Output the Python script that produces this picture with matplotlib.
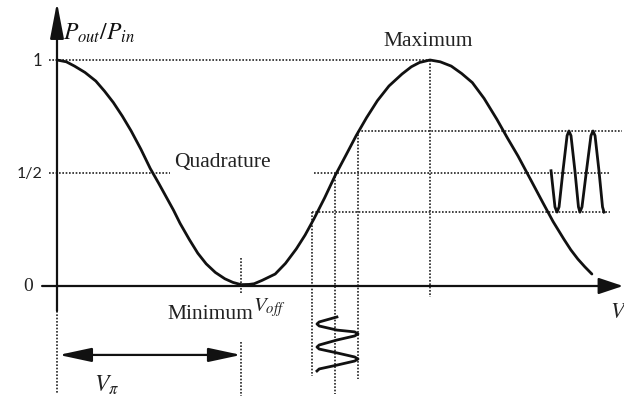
import matplotlib
matplotlib.use("Agg")
import matplotlib.pyplot as plt

plt.rcParams['mathtext.fontset'] = 'stix'

# ---- data (x in units of V_pi, y = Pout/Pin) ----
curve_x = [0.0, 0.05, 0.094, 0.15, 0.208, 0.255, 0.302, 0.35, 0.397, 0.45,
           0.5, 0.545, 0.585, 0.625, 0.66, 0.71, 0.755, 0.8, 0.849, 0.9,
           0.943, 0.987, 1.03, 1.057, 1.1, 1.17, 1.225, 1.283, 1.33, 1.377,
           1.435, 1.491, 1.55, 1.604, 1.66, 1.718, 1.78, 1.85, 1.9, 1.944,
           2.0, 2.055, 2.114, 2.17, 2.227, 2.29, 2.359, 2.415, 2.472, 2.54,
           2.605, 2.66, 2.718, 2.755, 2.793, 2.83, 2.868]
curve_y = [1.0, 0.992, 0.973, 0.945, 0.907, 0.862, 0.812, 0.752, 0.687, 0.605,
           0.52, 0.455, 0.395, 0.335, 0.277, 0.205, 0.145, 0.098, 0.06, 0.032,
           0.016, 0.006, 0.007, 0.01, 0.025, 0.053, 0.1, 0.164, 0.225, 0.296,
           0.39, 0.488, 0.58, 0.665, 0.745, 0.82, 0.885, 0.938, 0.97, 0.989,
           1.0, 0.992, 0.973, 0.94, 0.900, 0.83, 0.737, 0.655, 0.575, 0.47,
           0.369, 0.285, 0.207, 0.16, 0.119, 0.085, 0.053]

# output (optical) signal sketch
out_x = [2.649, 2.670, 2.681, 2.692, 2.713, 2.735, 2.745, 2.756, 2.777, 2.796,
         2.804, 2.815, 2.839, 2.863, 2.874, 2.885, 2.906, 2.925, 2.933]
out_y = [0.51, 0.35, 0.327, 0.35, 0.51, 0.665, 0.686, 0.665, 0.51, 0.35,
         0.327, 0.35, 0.51, 0.665, 0.686, 0.665, 0.51, 0.35, 0.327]

# input (electrical) signal sketch
in_x = [1.501, 1.406, 1.394, 1.406, 1.501, 1.596, 1.614, 1.596, 1.501, 1.406,
        1.394, 1.406, 1.501, 1.596, 1.614, 1.596, 1.501, 1.406, 1.394]
in_y = [-0.137, -0.159, -0.168, -0.177, -0.195, -0.203, -0.212, -0.221, -0.239, -0.261,
        -0.270, -0.279, -0.296, -0.314, -0.323, -0.332, -0.350, -0.367, -0.376]

# reference levels
y_ticks = [0.0, 0.5, 1.0]
y_tick_labels = ["0", "1/2", "1"]
upper_level = 0.686
lower_level = 0.327
v_min = 0.987
v_max = 2.0
v_low, v_mid, v_high = 1.367, 1.491, 1.614

# ---- figure ----
fig = plt.figure(figsize=(6.24, 4.06), dpi=100)
ax = fig.add_axes([0, 0, 1, 1])
ax.set_xlim(-57 / 186.5, 567 / 186.5)
ax.set_ylim(-119 / 226, 287 / 226)
ax.axis('off')

ink = '#111111'
dot = dict(color='#222222', lw=1.2, linestyle=(0, (1, 1)))

# dotted guide lines
ax.plot([-0.043, v_max], [1.0, 1.0], **dot)
ax.plot([-0.043, 0.606], [0.5, 0.5], **dot)
ax.plot([1.378, 2.965], [0.5, 0.5], **dot)
ax.plot([v_high, 3.03], [upper_level, upper_level], **dot)
ax.plot([v_low, 2.965], [lower_level, lower_level], **dot)
ax.plot([v_low, v_low], [lower_level, -0.398], **dot)
ax.plot([v_mid, v_mid], [0.5, -0.478], **dot)
ax.plot([v_high, v_high], [upper_level, -0.411], **dot)
ax.plot([v_max, v_max], [1.0, -0.05], **dot)
ax.plot([0, 0], [-0.11, -0.478], **dot)
ax.plot([v_min, v_min], [0.124, -0.035], **dot)
ax.plot([v_min, v_min], [-0.248, -0.487], **dot)

# axes with arrows
ax.annotate('', xy=(0, 1.255), xytext=(0, -0.11),
            arrowprops=dict(arrowstyle='-|>,head_length=2.2,head_width=0.42',
                            mutation_scale=10, lw=1.6, color=ink,
                            shrinkA=0, shrinkB=0))
ax.annotate('', xy=(3.035, 0), xytext=(-0.08, 0),
            arrowprops=dict(arrowstyle='-|>,head_length=1.5,head_width=0.5',
                            mutation_scale=10, lw=1.6, color=ink,
                            shrinkA=0, shrinkB=0))
# V_pi double arrow
ax.annotate('', xy=(v_min, -0.305), xytext=(0.01, -0.305),
            arrowprops=dict(arrowstyle='<|-|>,head_length=2.0,head_width=0.43',
                            mutation_scale=10, lw=1.6, color=ink,
                            shrinkA=0, shrinkB=0))

# transfer curve and signals
ax.plot(curve_x, curve_y, color=ink, lw=2.0, solid_capstyle='round', solid_joinstyle='round')
ax.plot(out_x, out_y, color=ink, lw=2.0, solid_joinstyle='round')
ax.plot(in_x, in_y, color=ink, lw=2.0, solid_joinstyle='round')

# tick labels
ax.text(-0.107, y_ticks[2], y_tick_labels[2], ha='center', va='center',
        fontsize=12, family='Lato', color='#222222')
ax.text(-0.145, y_ticks[1], y_tick_labels[1], ha='center', va='center',
        fontsize=11.5, family='Lato', color='#222222')
ax.text(-0.155, y_ticks[0], y_tick_labels[0], ha='center', va='center',
        fontsize=14, family='Liberation Serif', color='#222222')

# annotations
serif = 'Liberation Serif'
ax.text(0.63, 0.531, 'Quadrature', ha='left', va='baseline', fontsize=15.5,
        family=serif, color='#222222')
ax.text(1.989, 1.066, 'Maximum', ha='center', va='baseline', fontsize=15.5,
        family=serif, color='#222222')
ax.text(0.59, -0.142, 'Minimum', ha='left', va='baseline', fontsize=15.5,
        family=serif, color='#222222')
ax.text(1.05, -0.106, r'$V_{off}$', ha='left', va='baseline', fontsize=15,
        color='#222222')
ax.text(0.032, 1.093, r'$P_{out}/P_{in}$', ha='left', va='baseline', fontsize=17,
        color='#111111')
ax.text(0.2, -0.434, r'$V_{\pi}$', ha='left', va='center', fontsize=17,
        color='#222222')
ax.text(2.965, -0.11, r'$V_{in}$', ha='left', va='center', fontsize=16,
        color='#222222')

fig.savefig('out.png', dpi=100)
